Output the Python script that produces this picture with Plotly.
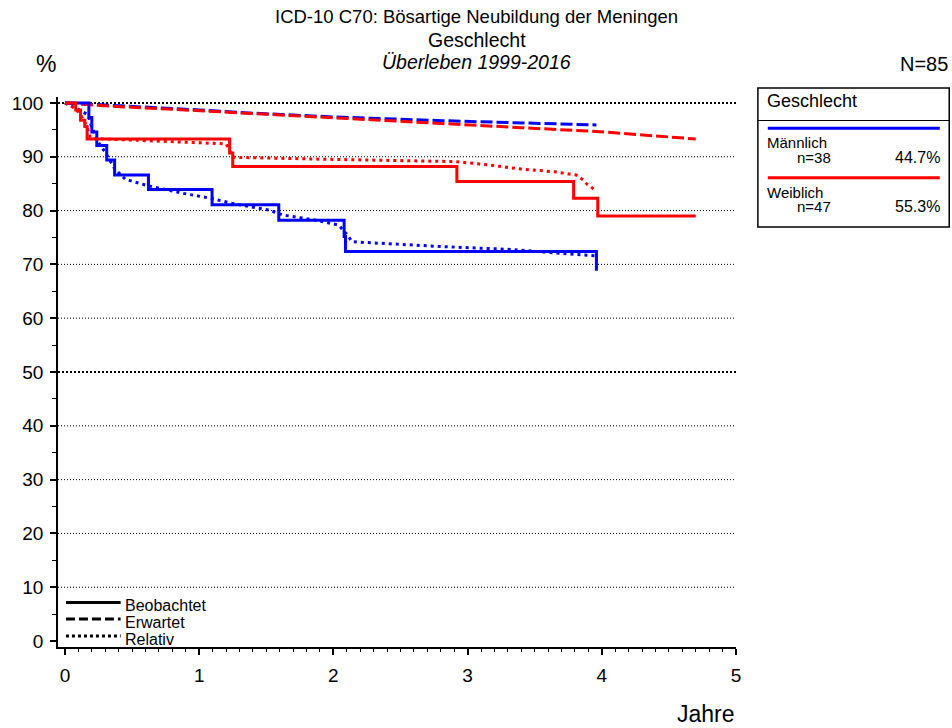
import plotly.graph_objects as go

# ---------------- data ----------------
male_obs_t = [0, 0.178, 0.20, 0.237, 0.311, 0.37, 0.622, 1.096, 1.593, 2.08, 2.09, 3.96, 3.96]
male_obs_v = [100, 97.3, 94.6, 92.1, 89.4, 86.6, 83.9, 81.1, 78.2, 75.2, 72.4, 72.4, 68.8]

female_obs_t = [0, 0.08, 0.116, 0.148, 0.165, 1.227, 1.25, 2.92, 3.79, 3.97, 4.70]
female_obs_v = [100, 98.7, 96.8, 95.6, 93.3, 90.7, 88.2, 85.4, 82.3, 79.0, 79.0]

male_exp_t = [0, 0.5, 1.0, 1.4, 2.0, 2.81, 3.4, 3.96]
male_exp_v = [100, 99.4, 98.7, 98.1, 97.4, 96.7, 96.3, 95.9]

female_exp_t = [0, 0.34, 0.89, 1.4, 2.0, 2.81, 3.4, 3.96, 4.70]
female_exp_v = [100, 99.4, 98.7, 98.0, 97.2, 96.1, 95.4, 94.7, 93.3]

male_rel_t = [0, 0.1, 0.17, 0.2, 0.24, 0.3, 0.37, 0.45, 0.62, 0.88, 1.08, 1.27, 1.52, 1.62, 1.87, 2.04, 2.1, 2.14, 2.81, 3.3, 3.89, 3.96]
male_rel_v = [100, 98.8, 97.8, 95.5, 93.0, 90.8, 87.8, 85.8, 84.6, 83.2, 82.3, 81.2, 80.1, 79.2, 78.2, 77.3, 75.6, 74.2, 73.3, 72.8, 71.7, 71.6]

female_rel_t = [0, 0.08, 0.116, 0.165, 0.19, 0.5, 1.2, 1.227, 1.25, 2.0, 2.66, 2.91, 3.15, 3.4, 3.65, 3.78, 3.81, 3.86, 3.89, 3.94]
female_rel_v = [100, 98.9, 97.8, 95.5, 93.4, 93.1, 92.4, 91.2, 89.9, 89.5, 89.2, 89.1, 88.5, 87.7, 87.2, 86.8, 86.6, 85.7, 84.9, 84.0]

grid_values = [10, 20, 30, 40, 60, 70, 80, 90]
grid_bold_values = [50, 100]

y_ticks = [0, 10, 20, 30, 40, 50, 60, 70, 80, 90, 100]
x_ticks = [0, 1, 2, 3, 4, 5]

title_lines = ["ICD-10 C70: Bösartige Neubildung der Meningen", "Geschlecht", "<i>Überleben 1999-2016</i>"]
groups = ["Männlich", "Weiblich"]
group_n = ["n=38", "n=47"]
group_pct = ["44.7%", "55.3%"]
group_colors = ["#0000FF", "#FF0000"]
line_legend = ["Beobachtet", "Erwartet", "Relativ"]

FONT = "Liberation Sans, Arial, sans-serif"
BLUE, RED = group_colors
DASH = "12px,4px"
DOT = "3px,4px"

fig = go.Figure()

fig.add_trace(go.Scatter(x=male_exp_t, y=male_exp_v, mode="lines",
                         line=dict(color=BLUE, width=3, dash=DASH), showlegend=False))
fig.add_trace(go.Scatter(x=female_exp_t, y=female_exp_v, mode="lines",
                         line=dict(color=RED, width=3, dash=DASH), showlegend=False))
fig.add_trace(go.Scatter(x=male_rel_t, y=male_rel_v, mode="lines",
                         line=dict(color=BLUE, width=3, dash=DOT), showlegend=False))
fig.add_trace(go.Scatter(x=female_rel_t, y=female_rel_v, mode="lines",
                         line=dict(color=RED, width=3, dash=DOT), showlegend=False))
fig.add_trace(go.Scatter(x=male_obs_t, y=male_obs_v, mode="lines", line_shape="hv",
                         line=dict(color=BLUE, width=3), showlegend=False))
fig.add_trace(go.Scatter(x=female_obs_t, y=female_obs_v, mode="lines", line_shape="hv",
                         line=dict(color=RED, width=3), showlegend=False))

shapes = []
for g in grid_values:
    shapes.append(dict(type="line", xref="paper", yref="y", x0=0, x1=1, y0=g, y1=g,
                       line=dict(color="black", width=1, dash="1px,2px"), layer="below"))
for g in grid_bold_values:
    shapes.append(dict(type="line", xref="paper", yref="y", x0=0, x1=1, y0=g, y1=g,
                       line=dict(color="black", width=2, dash="2px,2px"), layer="below"))

W, H = 952, 728
L, R, T, B = 54, 216, 97, 81
PW, PH = W - L - R, H - T - B

def px_x(x):
    return (x - L) / PW

def px_y(y):
    return (H - B - y) / PH

leg_y = [602.5, 619, 636]
leg_dash = ["solid", "9px,4px", "3px,3px"]
for i, lab in enumerate(line_legend):
    shapes.append(dict(type="line", xref="paper", yref="paper",
                       x0=px_x(62), x1=px_x(117), y0=px_y(leg_y[i]), y1=px_y(leg_y[i]),
                       line=dict(color="black", width=3, dash=leg_dash[i])))

annotations = []
text_y = [605.5, 622, 639]
for i, lab in enumerate(line_legend):
    annotations.append(dict(text=lab, xref="paper", yref="paper", x=px_x(119), y=px_y(text_y[i]),
                            xanchor="left", yanchor="middle", showarrow=False,
                            font=dict(family=FONT, size=16, color="black")))

shapes.append(dict(type="rect", xref="paper", yref="paper",
                   x0=px_x(758), x1=px_x(950.5), y0=px_y(88), y1=px_y(227),
                   line=dict(color="black", width=1.5), fillcolor="rgba(0,0,0,0)"))
shapes.append(dict(type="line", xref="paper", yref="paper",
                   x0=px_x(758), x1=px_x(950.5), y0=px_y(120.5), y1=px_y(120.5),
                   line=dict(color="black", width=1.2)))
annotations.append(dict(text="Geschlecht", xref="paper", yref="paper", x=px_x(765), y=px_y(101),
                        xanchor="left", yanchor="middle", showarrow=False,
                        font=dict(family=FONT, size=18, color="black")))
band_line_y = [128.3, 177.7]
name_y = [142.5, 192.5]
n_y = [157, 207]
for i, gname in enumerate(groups):
    shapes.append(dict(type="line", xref="paper", yref="paper",
                       x0=px_x(768), x1=px_x(941), y0=px_y(band_line_y[i]), y1=px_y(band_line_y[i]),
                       line=dict(color=group_colors[i], width=3)))
    annotations.append(dict(text=gname, xref="paper", yref="paper", x=px_x(765), y=px_y(name_y[i]),
                            xanchor="left", yanchor="middle", showarrow=False,
                            font=dict(family=FONT, size=15, color="black")))
    annotations.append(dict(text=group_n[i], xref="paper", yref="paper", x=px_x(795), y=px_y(n_y[i]),
                            xanchor="left", yanchor="middle", showarrow=False,
                            font=dict(family=FONT, size=15, color="black")))
    annotations.append(dict(text=group_pct[i], xref="paper", yref="paper", x=px_x(943), y=px_y(n_y[i]),
                            xanchor="right", yanchor="middle", showarrow=False,
                            font=dict(family=FONT, size=16, color="black")))

title_y = [17, 40, 62]
title_size = [18.5, 19.5, 19.5]
for i, t in enumerate(title_lines):
    annotations.append(dict(text=t, xref="paper", yref="paper", x=px_x(475), y=px_y(title_y[i]),
                            xanchor="center", yanchor="middle", showarrow=False,
                            font=dict(family=FONT, size=title_size[i], color="black")))
annotations.append(dict(text="%", xref="paper", yref="paper", x=px_x(42), y=px_y(64),
                        xanchor="center", yanchor="middle", showarrow=False,
                        font=dict(family=FONT, size=23, color="black")))
annotations.append(dict(text="N=85", xref="paper", yref="paper", x=px_x(951), y=px_y(64),
                        xanchor="right", yanchor="middle", showarrow=False,
                        font=dict(family=FONT, size=20, color="black")))
annotations.append(dict(text="Jahre", xref="paper", yref="paper", x=px_x(737), y=px_y(714),
                        xanchor="right", yanchor="middle", showarrow=False,
                        font=dict(family=FONT, size=23, color="black")))

fig.update_layout(
    width=W, height=H,
    margin=dict(l=L, r=R, t=T, b=B, pad=0),
    paper_bgcolor="white", plot_bgcolor="white",
    shapes=shapes, annotations=annotations,
    showlegend=False,
    font=dict(family=FONT, color="black"),
    xaxis=dict(range=[-0.052, 5.0], tickvals=x_ticks, ticktext=[str(v) for v in x_ticks],
               showgrid=False, zeroline=False, showline=True, linecolor="black", linewidth=1.5,
               ticks="outside", ticklen=6, tickwidth=1.5, tickcolor="black",
               tickfont=dict(family=FONT, size=19, color="black"), ticklabelstandoff=4,
               minor=dict(dtick=0.1, tick0=0, ticks="outside", ticklen=3, tickwidth=1, tickcolor="black", showgrid=False),
               fixedrange=True),
    yaxis=dict(range=[-1.1, 101.1], tickvals=y_ticks, ticktext=[str(v) for v in y_ticks],
               showgrid=False, zeroline=False, showline=True, linecolor="black", linewidth=1.5,
               ticks="outside", ticklen=6, tickwidth=1.5, tickcolor="black",
               tickfont=dict(family=FONT, size=19, color="black"), ticklabelstandoff=3,
               minor=dict(dtick=5, tick0=0, ticks="outside", ticklen=4, tickwidth=1, tickcolor="black", showgrid=False),
               fixedrange=True),
)

fig.write_html("out.html", config={"displayModeBar": False},
               post_script="document.body.style.margin='0';document.body.style.overflow='hidden';")
